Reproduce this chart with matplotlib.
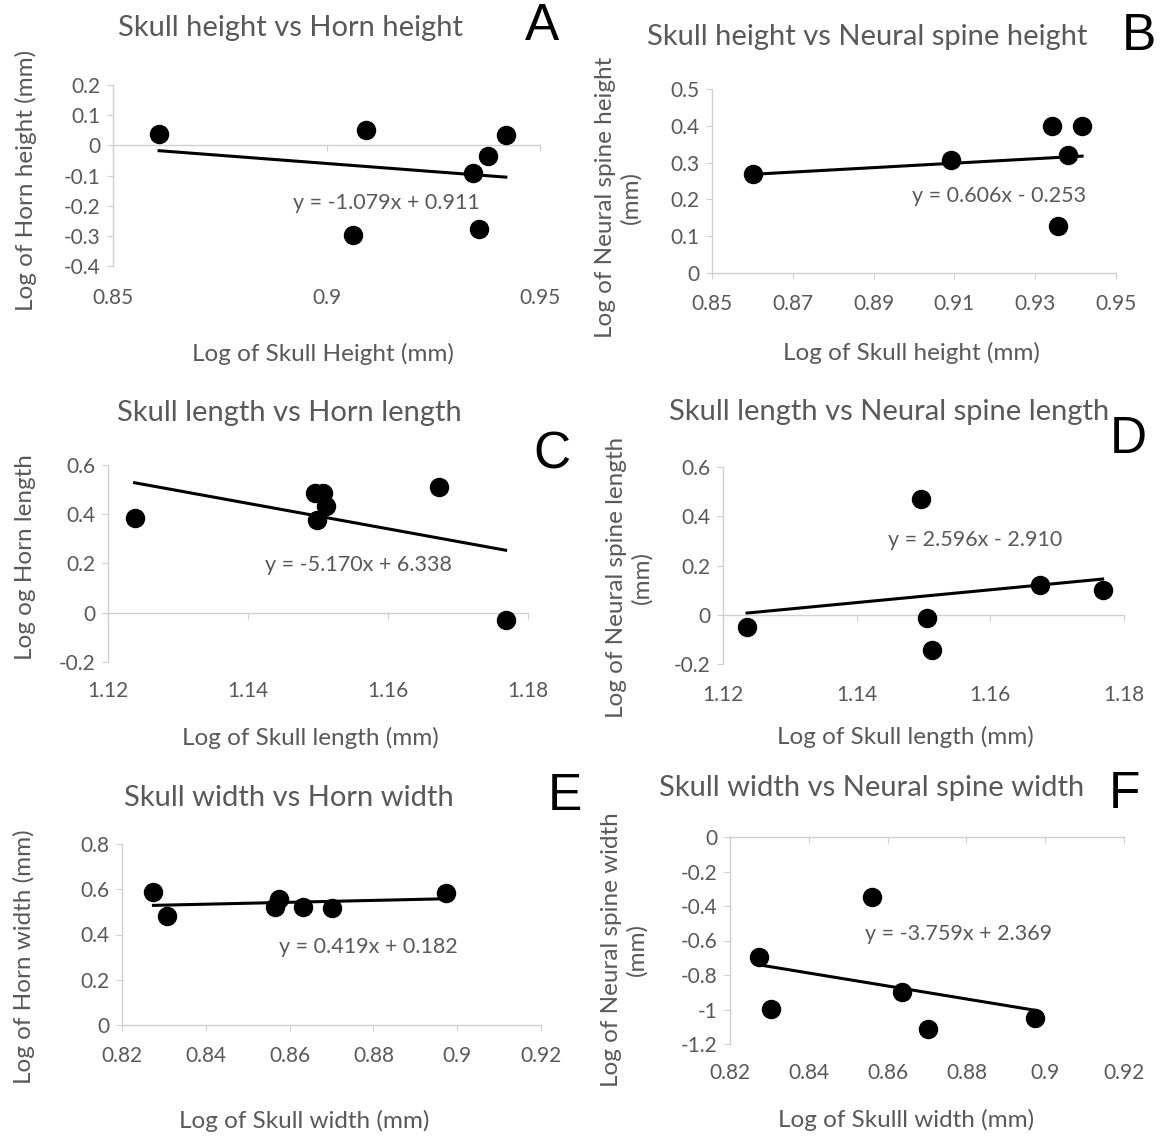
import matplotlib as mpl

mpl.use("Agg")

import matplotlib.pyplot as plt
import numpy as np

W, H = 1161, 1136
TEXT = "#595959"
AXIS = "#d0d0d0"

# ---- data (log10 values) ----
a_x = [0.8608, 0.9093, 0.9063, 0.9344, 0.9378, 0.9357, 0.9420]
a_y = [0.039, 0.050, -0.296, -0.093, -0.034, -0.276, 0.034]
a_fit = (-1.079, 0.911)

b_x = [0.8602, 0.9092, 0.9341, 0.9416, 0.9380, 0.9357]
b_y = [0.270, 0.308, 0.399, 0.399, 0.320, 0.127]
b_fit = (0.606, -0.253)

c_x = [1.1238, 1.1495, 1.1507, 1.1511, 1.1498, 1.1673, 1.1768]
c_y = [0.383, 0.487, 0.485, 0.435, 0.376, 0.512, -0.030]
c_fit = (-5.170, 6.338)

d_x = [1.1236, 1.1496, 1.1505, 1.1512, 1.1674, 1.1768]
d_y = [-0.050, 0.471, -0.014, -0.145, 0.122, 0.102]
d_fit = (2.596, -2.910)

e_x = [0.8275, 0.8308, 0.8564, 0.8574, 0.8633, 0.8702, 0.8973]
e_y = [0.589, 0.483, 0.523, 0.555, 0.523, 0.519, 0.582]
e_fit = (0.419, 0.182)

f_x = [0.8274, 0.8303, 0.8560, 0.8637, 0.8703, 0.8974]
f_y = [-0.698, -0.999, -0.347, -0.901, -1.115, -1.051]
f_fit = (-3.759, 2.369)


def fx(px):
    return px / W


def fy(py):
    return 1 - py / H


def fmt(v):
    return "0" if abs(v) < 1e-12 else f"{v:g}"


def panel(fig, box, x, y, fit, xticks, yticks, title, title_xy, letter, letter_xy,
          xlabel, xlabel_xy, ylabel, ylabel_xy, eq_xy, label_pad=15):
    left, top, right, bottom = box
    ax = fig.add_axes([fx(left), fy(bottom), fx(right - left), (bottom - top) / H])
    ax.set_xlim(xticks[0], xticks[-1])
    ax.set_ylim(yticks[0], yticks[-1])

    slope, intercept = fit
    xs = np.array([min(x), max(x)])
    ax.plot(xs, slope * xs + intercept, color="black", lw=2.2, zorder=2)
    ax.plot(x, y, "o", color="black", ms=13, zorder=3)

    for side in ("top", "right"):
        ax.spines[side].set_visible(False)
    ax.spines["left"].set_color(AXIS)
    ax.spines["bottom"].set_color(AXIS)
    ax.spines["bottom"].set_position(("data", 0))
    ax.spines["left"].set_linewidth(1.0)
    ax.spines["bottom"].set_linewidth(1.0)

    ax.set_xticks(xticks)
    ax.set_yticks(yticks)
    ax.set_yticklabels([fmt(v) for v in yticks])
    ax.tick_params(axis="x", direction="out", length=4, color=AXIS, labelbottom=False)
    ax.tick_params(axis="y", direction="out", length=4, color=AXIS, pad=5,
                   labelsize=15, labelcolor=TEXT)

    # Excel-style "low" labels: axis line at zero, labels under the plot area
    sec = ax.secondary_xaxis("bottom")
    sec.set_xticks(xticks)
    sec.set_xticklabels([fmt(v) for v in xticks])
    sec.spines["bottom"].set_visible(False)
    sec.tick_params(length=0, pad=label_pad, labelsize=15, labelcolor=TEXT)

    sign = "+" if intercept >= 0 else "-"
    ax.text(eq_xy[0], eq_xy[1], f"y = {slope:.3f}x {sign} {abs(intercept):.3f}",
            ha="left", va="center", fontsize=15.5, color=TEXT)

    fig.text(fx(title_xy[0]), fy(title_xy[1]), title, ha="center", va="center",
             fontsize=21, color=TEXT)
    fig.text(fx(letter_xy[0]), fy(letter_xy[1]), letter, ha="center", va="center",
             fontsize=37, color="black", family="Liberation Sans")
    fig.text(fx(xlabel_xy[0]), fy(xlabel_xy[1]), xlabel, ha="center", va="center",
             fontsize=17.5, color=TEXT)
    fig.text(fx(ylabel_xy[0]), fy(ylabel_xy[1]), ylabel, ha="center", va="center",
             fontsize=17.5, color=TEXT, rotation=90, linespacing=1.2)
    return ax


plt.rcParams["font.family"] = ["Lato", "DejaVu Sans"]
fig = plt.figure(figsize=(W / 100, H / 100), dpi=100)

panel(fig, (113, 85, 540, 266), a_x, a_y, a_fit,
      [0.85, 0.9, 0.95], [-0.4, -0.3, -0.2, -0.1, 0, 0.1, 0.2],
      "Skull height vs Horn height", (290, 28), "A", (542, 27),
      "Log of Skull Height (mm)", (323, 354), "Log of Horn height (mm)", (26, 180),
      (0.8922, -0.19), label_pad=16)

panel(fig, (712, 89, 1116, 273), b_x, b_y, b_fit,
      [0.85, 0.87, 0.89, 0.91, 0.93, 0.95], [0, 0.1, 0.2, 0.3, 0.4, 0.5],
      "Skull height vs Neural spine height", (867, 37), "B", (1139, 37),
      "Log of Skull height (mm)", (911, 353), "Log of Neural spine height\n(mm)", (618, 197),
      (0.8995, 0.21))

panel(fig, (108, 465, 528, 662), c_x, c_y, c_fit,
      [1.12, 1.14, 1.16, 1.18], [-0.2, 0, 0.2, 0.4, 0.6],
      "Skull length vs Horn length", (289, 413), "C", (552, 455),
      "Log of Skull length (mm)", (310, 738), "Log og Horn length", (26, 557),
      (1.1424, 0.194), label_pad=14)

panel(fig, (723, 467, 1124, 664), d_x, d_y, d_fit,
      [1.12, 1.14, 1.16, 1.18], [-0.2, 0, 0.2, 0.4, 0.6],
      "Skull length vs Neural spine length", (889, 412), "D", (1128, 440),
      "Log of Skull length (mm)", (905, 737), "Log of Neural spine length\n(mm)", (629, 577),
      (1.1447, 0.305))

panel(fig, (122, 844, 541, 1025), e_x, e_y, e_fit,
      [0.82, 0.84, 0.86, 0.88, 0.9, 0.92], [0, 0.2, 0.4, 0.6, 0.8],
      "Skull width vs Horn width", (289, 798), "E", (565, 797),
      "Log of Skull width (mm)", (304, 1121), "Log of Horn width (mm)", (24, 957),
      (0.8575, 0.346))

panel(fig, (730, 837, 1124, 1044), f_x, f_y, f_fit,
      [0.82, 0.84, 0.86, 0.88, 0.9, 0.92], [-1.2, -1.0, -0.8, -0.6, -0.4, -0.2, 0],
      "Skull width vs Neural spine width", (872, 788), "F", (1124, 795),
      "Log of Skulll width (mm)", (906, 1120), "Log of Neural spine width\n(mm)", (624, 950),
      (0.8543, -0.563), label_pad=14)

fig.savefig("out.png", dpi=100, facecolor="white")
